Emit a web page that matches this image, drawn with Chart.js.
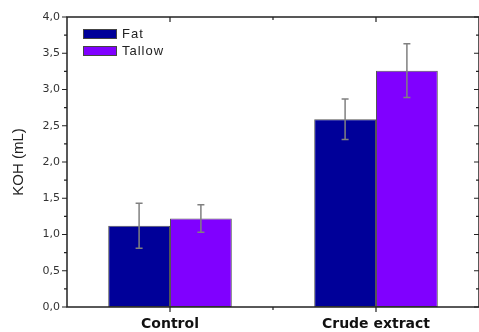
<!DOCTYPE html>
<html>
<head>
<meta charset="utf-8">
<script src="https://cdn.jsdelivr.net/npm/chart.js@4"></script>
<style>
html,body{margin:0;padding:0;background:#fff;}
#wrap{width:479px;height:332px;position:relative;}
</style>
</head>
<body>
<div id="wrap"><canvas id="c" width="479" height="332"></canvas></div>
<script>
const categories = ['Control', 'Crude extract'];
const fatValues = [1.12, 2.59];
const fatErrors = [0.31, 0.28];
const tallowValues = [1.22, 3.26];
const tallowErrors = [0.19, 0.37];
const yTicks = [0, 0.5, 1.0, 1.5, 2.0, 2.5, 3.0, 3.5, 4.0];
const seriesNames = ['Fat', 'Tallow'];
const seriesColors = ['#000099', '#8000FF'];
const errorSets = [fatErrors, tallowErrors];

const framePlugin = {
  id: 'frame',
  afterDatasetsDraw(chart) {
    const ctx = chart.ctx;
    const y = chart.scales.y;
    chart.data.datasets.forEach((ds, di) => {
      const meta = chart.getDatasetMeta(di);
      meta.data.forEach((bar, i) => {
        const v = ds.data[i], e = errorSets[di][i];
        const top = y.getPixelForValue(v + e), bot = y.getPixelForValue(v - e);
        ctx.save();
        ctx.strokeStyle = '#808080';
        ctx.lineWidth = 1.5;
        ctx.beginPath();
        ctx.moveTo(bar.x, top); ctx.lineTo(bar.x, bot);
        ctx.moveTo(bar.x - 3.5, top); ctx.lineTo(bar.x + 3.5, top);
        ctx.moveTo(bar.x - 3.5, bot); ctx.lineTo(bar.x + 3.5, bot);
        ctx.stroke();
        ctx.restore();
      });
    });
  },
  afterDraw(chart) {
    const ctx = chart.ctx;
    const a = chart.chartArea;
    const y = chart.scales.y, x = chart.scales.x;
    ctx.save();
    ctx.strokeStyle = '#222';
    ctx.lineWidth = 1.5;
    ctx.strokeRect(a.left, a.top, a.right - a.left, a.bottom - a.top);
    ctx.lineWidth = 1.2;
    ctx.beginPath();
    for (let i = 0; i < yTicks.length; i++) {
      const v = yTicks[i];
      const p = y.getPixelForValue(v);
      ctx.moveTo(a.left - 5, p); ctx.lineTo(a.left, p);
      ctx.moveTo(a.right, p); ctx.lineTo(a.right - 5, p);
      if (i < yTicks.length - 1) {
        const m = y.getPixelForValue((v + yTicks[i + 1]) / 2);
        ctx.moveTo(a.left - 3, m); ctx.lineTo(a.left, m);
        ctx.moveTo(a.right, m); ctx.lineTo(a.right - 3, m);
      }
    }
    for (let i = 0; i < categories.length; i++) {
      const p = x.getPixelForValue(i);
      ctx.moveTo(p, a.bottom); ctx.lineTo(p, a.bottom + 5);
      ctx.moveTo(p, a.top); ctx.lineTo(p, a.top + 5);
      if (i < categories.length - 1) {
        const m = x.getPixelForValue(i + 0.5);
        ctx.moveTo(m, a.bottom); ctx.lineTo(m, a.bottom + 3);
        ctx.moveTo(m, a.top); ctx.lineTo(m, a.top + 3);
      }
    }
    ctx.stroke();
    ctx.font = '13px "Liberation Sans", Arial, sans-serif';
    ctx.letterSpacing = '1px';
    ctx.textBaseline = 'middle';
    ctx.textAlign = 'left';
    const boxes = [[29, 38], [46, 55]];
    seriesNames.forEach((n, i) => {
      const [t, b] = boxes[i];
      ctx.fillStyle = seriesColors[i];
      ctx.fillRect(83, t, 33, b - t);
      ctx.strokeStyle = '#444';
      ctx.lineWidth = 1;
      ctx.strokeRect(83.5, t + 0.5, 33, b - t);
      ctx.fillStyle = '#222';
      ctx.fillText(n, 122, (t + b) / 2 + 1);
    });
    ctx.restore();
  }
};

new Chart(document.getElementById('c'), {
  type: 'bar',
  data: {
    labels: categories,
    datasets: [
      { label: seriesNames[0], data: fatValues, backgroundColor: seriesColors[0], borderColor: '#555', borderWidth: 1, borderSkipped: false },
      { label: seriesNames[1], data: tallowValues, backgroundColor: seriesColors[1], borderColor: '#555', borderWidth: 1, borderSkipped: false }
    ]
  },
  options: {
    responsive: false,
    animation: false,
    devicePixelRatio: 1,
    layout: { padding: { top: 17, right: 0, left: 0, bottom: 0 } },
    plugins: { legend: { display: false }, tooltip: { enabled: false } },
    datasets: { bar: { categoryPercentage: 0.6, barPercentage: 1.0 } },
    scales: {
      x: {
        grid: { display: false, drawTicks: false },
        border: { display: false },
        ticks: { padding: 9, color: '#111', font: { family: '"DejaVu Sans", sans-serif', size: 14, weight: 'bold' } },
        afterFit(s) { s.height = 25; }
      },
      y: {
        min: 0, max: 4,
        grid: { display: false, drawTicks: false },
        border: { display: false },
        afterBuildTicks(s) { s.ticks = yTicks.map(v => ({ value: v })); },
        ticks: {
          padding: 7, color: '#333',
          font: { family: '"DejaVu Sans", sans-serif', size: 11 },
          callback: v => v.toFixed(1).replace('.', ',')
        },
        title: { display: true, text: 'KOH (mL)', color: '#222', padding: { top: 10, bottom: 4 }, font: { family: '"Liberation Sans", Arial, sans-serif', size: 15 } },
        afterFit(s) { s.width = 67; }
      }
    }
  },
  plugins: [framePlugin]
});
</script>
</body>
</html>
